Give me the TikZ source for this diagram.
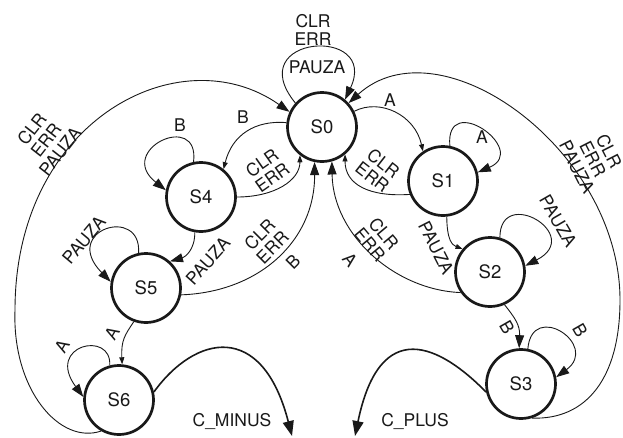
\documentclass[tikz,border=0pt]{standalone}
\usepackage{fontspec}
\setmainfont{TeX Gyre Heros}
\usetikzlibrary{arrows.meta}
\definecolor{ink}{gray}{0.1}
\begin{document}
\begin{tikzpicture}[x=1pt,y=-1pt,
  state/.style={circle, draw=ink, line width=2.7pt, minimum size=69pt, inner sep=0pt,
                text=ink, font=\fontsize{18.5}{20}\selectfont},
  edge/.style={draw=ink, line width=0.9pt},
  thickedge/.style={draw=ink, line width=1.6pt},
  big/.style={-{Triangle[length=13pt,width=9pt]}},
  huge/.style={-{Triangle[length=15pt,width=11pt]}},
  small/.style={-{Triangle[length=7pt,width=5pt]}},
  lbl/.style={text=ink, font=\fontsize{17.5}{18}\selectfont, align=center, inner sep=0pt}]

\fill[white] (0,0) rectangle (623,437);
\useasboundingbox (0,0) rectangle (623,437);

% states
\node[state] (s0) at (322,127) {S0};
\node[state] (s1) at (443,181) {S1};
\node[state] (s2) at (490,272) {S2};
\node[state] (s3) at (521,384) {S3};
\node[state] (s4) at (201,197) {S4};
\node[state] (s5) at (146,288) {S5};
\node[state] (s6) at (119,400) {S6};

% S0 self loop
\draw[edge,big] (s0.138) .. controls (240,35) and (380,25) .. (s0.50);
\node[lbl] (l00) at (313,30) {CLR\\ERR};
\node[lbl] (l00p) at (317,67) {PAUZA};

% S0 <-> S1
\draw[edge,small] (s0.26) .. controls (380,98) and (415,115) .. (s1.124);
\node[lbl] (l01) at (390,100) {A};
\draw[edge,small] (s1.202) .. controls (370,197) and (345,185) .. (s0.310);
\node[lbl,rotate=-38] (l10) at (378,170) {CLR\\ERR};

% S1 self loop
\draw[edge,big] (s1.79) .. controls (445,90) and (530,150) .. (s1.14);
\node[lbl] (l11) at (482,137) {A};

% S3 back to S0 along the right side
\coordinate (rturn) at (620,300);
\draw[edge,big] (s3.288) .. controls (585,420) and (620,380) .. (rturn)
                .. controls (620,150) and (440,20) .. (s0.42);
\node[lbl,rotate=-63] (l30) at (593,159) {CLR\\ERR\\PAUZA};

% S6 back to S0 along the left side
\coordinate (lturn) at (15,310);
\draw[edge,big] (s6.240) .. controls (60,445) and (12,390) .. (lturn)
                .. controls (15,120) and (180,35) .. (s0.155);
\node[lbl,rotate=52] (l60) at (46,140) {CLR\\ERR\\PAUZA};

% S0 <-> S4
\draw[edge,small] (s0.173) .. controls (255,120) and (232,135) .. (s4.51);
\node[lbl] (l04) at (243,117) {B};
\draw[edge,small] (s4.0) .. controls (275,197) and (300,180) .. (s0.232);
\node[lbl,rotate=35] (l40) at (267,170) {CLR\\ERR};

% S4 self loop
\draw[edge,big] (s4.102) .. controls (200,110) and (115,150) .. (s4.169);
\node[lbl] (l44) at (180,125) {B};

% S4 -> S5
\draw[edge,big] (s4.260) .. controls (195,250) and (185,257) .. (s5.48);
\node[lbl,rotate=48] (l45) at (208,261) {PAUZA};

% S5 self loop
\draw[edge,big] (s5.102) .. controls (142,205) and (60,230) .. (s5.170);
\node[lbl,rotate=50] (l55) at (84,240) {PAUZA};

% S5 -> S0
\draw[edge,big] (s5.349) .. controls (260,292) and (315,240) .. (s0.258);
\node[lbl,rotate=45] (l50) at (266,241) {CLR\\ERR};
\node[lbl,rotate=45] (l50b) at (293,262) {B};

% S2 -> S0
\draw[edge,big] (s2.215) .. controls (395,290) and (333,235) .. (s0.286);
\node[lbl,rotate=-50] (l20) at (377,239) {CLR\\ERR};
\node[lbl,rotate=-50] (l20a) at (350,260) {A};

% S1 -> S2
\draw[edge,small] (s1.276) .. controls (447,240) and (452,245) .. (s2.140);
\node[lbl,rotate=-63] (l12) at (436,248) {PAUZA};

% S2 self loop
\draw[edge,big] (s2.74) .. controls (500,185) and (585,235) .. (s2.10);
\node[lbl,rotate=-60] (l22) at (558,221) {PAUZA};

% S2 -> S3
\draw[edge,big] (s2.294) .. controls (515,318) and (520,325) .. (s3.93);
\node[lbl,rotate=-60] (l23) at (507,327) {B};

% S3 self loop
\draw[edge,big] (s3.79) .. controls (532,300) and (600,345) .. (s3.11);
\node[lbl,rotate=-60] (l33) at (580,330) {B};

% S5 -> S6
\draw[edge,small] (s5.250) .. controls (125,335) and (121,340) .. (s6.85);
\node[lbl,rotate=60] (l56) at (112,333) {A};

% S6 self loop
\draw[edge,big] (s6.105) .. controls (112,330) and (45,345) .. (s6.175);
\node[lbl,rotate=60] (l66) at (62,346) {A};

% outputs
\coordinate (cminus) at (292,436);
\draw[thickedge,huge] (s6.13) .. controls (195,335) and (262,320) .. (cminus);
\node[lbl] (lcm) at (232,422) {C\_MINUS};

\coordinate (cplus) at (355,436);
\draw[thickedge,huge] (s3.193) .. controls (440,345) and (380,315) .. (cplus);
\node[lbl] (lcp) at (415,422) {C\_PLUS};
\end{tikzpicture}
\end{document}
